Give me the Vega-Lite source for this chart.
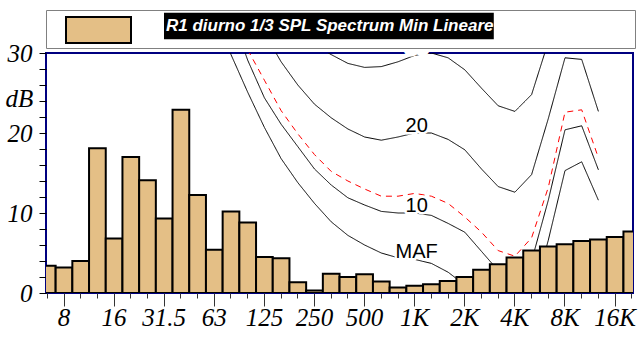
{
  "$schema": "https://vega.github.io/schema/vega-lite/v6.json",
  "width": 587,
  "height": 240,
  "autosize": {"type": "none"},
  "padding": {"left": 46, "top": 53, "right": 9, "bottom": 45},
  "background": "white",
  "config": {"view": {"stroke": "#000080", "strokeWidth": 2}},
  "datasets": {
    "bars": [
      {"f": "6.3", "db": 3.4}, {"f": "8", "db": 3.2}, {"f": "10", "db": 4.0}, {"f": "12.5", "db": 18.1},
      {"f": "16", "db": 6.8}, {"f": "20", "db": 17.0}, {"f": "25", "db": 14.1}, {"f": "31.5", "db": 9.3},
      {"f": "40", "db": 22.9}, {"f": "50", "db": 12.25}, {"f": "63", "db": 5.4}, {"f": "80", "db": 10.2},
      {"f": "100", "db": 8.8}, {"f": "125", "db": 4.5}, {"f": "160", "db": 4.35}, {"f": "200", "db": 1.35},
      {"f": "250", "db": 0.3}, {"f": "315", "db": 2.4}, {"f": "400", "db": 2.0}, {"f": "500", "db": 2.35},
      {"f": "630", "db": 1.45}, {"f": "800", "db": 0.7}, {"f": "1K", "db": 0.9}, {"f": "1.25K", "db": 1.1},
      {"f": "1.6K", "db": 1.5}, {"f": "2K", "db": 2.0}, {"f": "2.5K", "db": 2.9}, {"f": "3.15K", "db": 3.6},
      {"f": "4K", "db": 4.45}, {"f": "5K", "db": 5.3}, {"f": "6.3K", "db": 5.8}, {"f": "8K", "db": 6.1},
      {"f": "10K", "db": 6.5}, {"f": "12.5K", "db": 6.7}, {"f": "16K", "db": 7.0}, {"f": "20K", "db": 7.7}
    ],
    "curves": [
      {"curve": "MAF", "f": "63", "db": 35.5}, {"curve": "MAF", "f": "80", "db": 29.8}, {"curve": "MAF", "f": "100", "db": 25.1},
      {"curve": "MAF", "f": "125", "db": 20.7}, {"curve": "MAF", "f": "160", "db": 16.8}, {"curve": "MAF", "f": "200", "db": 13.8},
      {"curve": "MAF", "f": "250", "db": 11.2}, {"curve": "MAF", "f": "315", "db": 8.9}, {"curve": "MAF", "f": "400", "db": 7.2},
      {"curve": "MAF", "f": "500", "db": 6.0}, {"curve": "MAF", "f": "630", "db": 5.0}, {"curve": "MAF", "f": "800", "db": 4.4},
      {"curve": "MAF", "f": "1K", "db": 4.2}, {"curve": "MAF", "f": "1.25K", "db": 3.7}, {"curve": "MAF", "f": "1.6K", "db": 2.6},
      {"curve": "MAF", "f": "2K", "db": 1.0}, {"curve": "MAF", "f": "2.5K", "db": -1.2}, {"curve": "MAF", "f": "3.15K", "db": -3.6},
      {"curve": "MAF", "f": "4K", "db": -3.9}, {"curve": "MAF", "f": "5K", "db": -1.1}, {"curve": "MAF", "f": "6.3K", "db": 6.6},
      {"curve": "MAF", "f": "8K", "db": 15.3}, {"curve": "MAF", "f": "10K", "db": 16.4}, {"curve": "MAF", "f": "12.5K", "db": 11.6},

      {"curve": "10", "f": "80", "db": 35.0}, {"curve": "10", "f": "100", "db": 29.1}, {"curve": "10", "f": "125", "db": 24.4},
      {"curve": "10", "f": "160", "db": 21.1}, {"curve": "10", "f": "200", "db": 18.3}, {"curve": "10", "f": "250", "db": 15.5},
      {"curve": "10", "f": "315", "db": 13.5}, {"curve": "10", "f": "400", "db": 11.9}, {"curve": "10", "f": "500", "db": 11.0},
      {"curve": "10", "f": "630", "db": 10.2}, {"curve": "10", "f": "800", "db": 10.0}, {"curve": "10", "f": "1K", "db": 10.0},
      {"curve": "10", "f": "1.25K", "db": 9.7}, {"curve": "10", "f": "1.6K", "db": 8.7}, {"curve": "10", "f": "2K", "db": 7.6},
      {"curve": "10", "f": "2.5K", "db": 5.2}, {"curve": "10", "f": "3.15K", "db": 2.8}, {"curve": "10", "f": "4K", "db": 2.4},
      {"curve": "10", "f": "5K", "db": 4.0}, {"curve": "10", "f": "6.3K", "db": 11.6}, {"curve": "10", "f": "8K", "db": 20.4},
      {"curve": "10", "f": "10K", "db": 20.9}, {"curve": "10", "f": "12.5K", "db": 15.4},

      {"curve": "dash", "f": "80", "db": 35.5}, {"curve": "dash", "f": "100", "db": 30.4}, {"curve": "dash", "f": "125", "db": 26.6},
      {"curve": "dash", "f": "160", "db": 22.8}, {"curve": "dash", "f": "200", "db": 19.9}, {"curve": "dash", "f": "250", "db": 17.3},
      {"curve": "dash", "f": "315", "db": 15.2}, {"curve": "dash", "f": "400", "db": 14.0}, {"curve": "dash", "f": "500", "db": 13.0},
      {"curve": "dash", "f": "630", "db": 12.1}, {"curve": "dash", "f": "800", "db": 12.1}, {"curve": "dash", "f": "1K", "db": 12.45},
      {"curve": "dash", "f": "1.25K", "db": 12.1}, {"curve": "dash", "f": "1.6K", "db": 11.2}, {"curve": "dash", "f": "2K", "db": 9.5},
      {"curve": "dash", "f": "2.5K", "db": 7.6}, {"curve": "dash", "f": "3.15K", "db": 5.3}, {"curve": "dash", "f": "4K", "db": 4.6},
      {"curve": "dash", "f": "5K", "db": 6.9}, {"curve": "dash", "f": "6.3K", "db": 13.2}, {"curve": "dash", "f": "8K", "db": 22.6},
      {"curve": "dash", "f": "10K", "db": 22.9}, {"curve": "dash", "f": "12.5K", "db": 16.9},

      {"curve": "20", "f": "125", "db": 32.5}, {"curve": "20", "f": "160", "db": 28.9}, {"curve": "20", "f": "200", "db": 26.0},
      {"curve": "20", "f": "250", "db": 23.6}, {"curve": "20", "f": "315", "db": 21.9}, {"curve": "20", "f": "400", "db": 20.5},
      {"curve": "20", "f": "500", "db": 19.5}, {"curve": "20", "f": "630", "db": 19.1}, {"curve": "20", "f": "800", "db": 19.5},
      {"curve": "20", "f": "1K", "db": 20.0}, {"curve": "20", "f": "1.25K", "db": 20.0}, {"curve": "20", "f": "1.6K", "db": 19.2},
      {"curve": "20", "f": "2K", "db": 17.9}, {"curve": "20", "f": "2.5K", "db": 15.5}, {"curve": "20", "f": "3.15K", "db": 13.3},
      {"curve": "20", "f": "4K", "db": 12.6}, {"curve": "20", "f": "5K", "db": 14.8}, {"curve": "20", "f": "6.3K", "db": 21.8},
      {"curve": "20", "f": "8K", "db": 29.4}, {"curve": "20", "f": "10K", "db": 29.2}, {"curve": "20", "f": "12.5K", "db": 22.7},

      {"curve": "30", "f": "250", "db": 31.0}, {"curve": "30", "f": "315", "db": 29.8}, {"curve": "30", "f": "400", "db": 28.7},
      {"curve": "30", "f": "500", "db": 28.2}, {"curve": "30", "f": "630", "db": 28.3}, {"curve": "30", "f": "800", "db": 28.9},
      {"curve": "30", "f": "1K", "db": 29.7}, {"curve": "30", "f": "1.25K", "db": 30.0}, {"curve": "30", "f": "1.6K", "db": 29.4},
      {"curve": "30", "f": "2K", "db": 27.9}, {"curve": "30", "f": "2.5K", "db": 25.6}, {"curve": "30", "f": "3.15K", "db": 23.4},
      {"curve": "30", "f": "4K", "db": 22.7}, {"curve": "30", "f": "5K", "db": 24.8}, {"curve": "30", "f": "6.3K", "db": 31.4},
      {"curve": "30", "f": "8K", "db": 38.5}, {"curve": "30", "f": "10K", "db": 38.5}, {"curve": "30", "f": "12.5K", "db": 33.0}
    ]
  },
  "encoding": {
    "x": {"field": "f", "type": "ordinal",
          "scale": {"type": "band", "domain": ["6.3","8","10","12.5","16","20","25","31.5","40","50","63","80","100","125","160","200","250","315","400","500","630","800","1K","1.25K","1.6K","2K","2.5K","3.15K","4K","5K","6.3K","8K","10K","12.5K","16K","20K"], "range": [-7.05, 594.15], "paddingInner": 0, "paddingOuter": 0},
          "axis": {
            "title": null, "domain": false, "grid": false, "bandPosition": 0.5,
            "tickColor": "#333333", "tickWidth": 1,
            "tickSize": {"condition": {"test": "indexof(['8','16','31.5','63','125','250','500','1K','2K','4K','8K','16K'], datum.value) >= 0", "value": 13}, "value": 5},
            "labelExpr": "indexof(['8','16','31.5','63','125','250','500','1K','2K','4K','8K','16K'], datum.value) >= 0 ? datum.value : ''",
            "labelAngle": 0, "labelFont": "Liberation Serif", "labelFontStyle": "italic", "labelFontSize": 25,
            "labelColor": "#000000", "labelPadding": -1, "labelOverlap": false, "labelBound": false, "labelFlush": false
          }},
    "y": {"field": "db", "type": "quantitative",
          "scale": {"domain": [0, 30], "nice": false, "zero": false},
          "axis": {
            "values": [0, 2, 4, 6, 8, 10, 12, 14, 16, 18, 20, 22, 24, 26, 28, 30],
            "domain": false, "grid": false, "tickSize": 7, "tickColor": "#000000", "tickWidth": 1,
            "labelExpr": "datum.value % 10 == 0 ? datum.label : ''",
            "labelFont": "Liberation Serif", "labelFontStyle": "italic", "labelFontSize": 25, "labelColor": "#000000",
            "labelPadding": 7, "labelOverlap": false, "labelBound": false, "labelFlush": false,
            "title": "dB", "titleAngle": 0, "titleX": -27, "titleY": 45.5, "titleAlign": "center", "titleBaseline": "middle",
            "titleFont": "Liberation Serif", "titleFontStyle": "italic", "titleFontWeight": "normal", "titleFontSize": 25, "titleColor": "#000000"
          }}
  },
  "layer": [
    {
      "data": {"name": "curves"},
      "mark": {"type": "line", "clip": true, "strokeWidth": 1},
      "encoding": {
        "stroke": {"field": "curve", "type": "nominal", "legend": null,
                  "scale": {"domain": ["MAF", "10", "dash", "20", "30"], "range": ["#000000", "#000000", "#FF0000", "#000000", "#000000"]}},
        "strokeDash": {"field": "curve", "type": "nominal", "legend": null,
                  "scale": {"domain": ["MAF", "10", "dash", "20", "30"], "range": [[1, 0], [1, 0], [6, 5], [1, 0], [1, 0]]}},
        "order": {"value": null}
      }
    },
    {
      "data": {"name": "bars"},
      "mark": {"type": "bar", "clip": true, "stroke": "#000000", "strokeWidth": 2},
      "encoding": {
        "fill": {"datum": "R1", "type": "nominal", "scale": {"range": ["#E4BF86"]},
                 "legend": {
                   "orient": "none", "legendX": 19, "legendY": -37, "zindex": 1, "title": null, "padding": 0,
                   "symbolType": "M-1,-0.4H1V0.4H-1Z", "symbolSize": 4225, "symbolStrokeWidth": 2, "symbolStrokeColor": "#000000",
                   "clipHeight": 28, "symbolOffset": 0, "labelExpr": "''"
                 }}
      }
    },
    {
      "data": {"name": "curves"},
      "transform": [{"filter": "datum.f == '1K' && datum.curve != 'dash'"}],
      "mark": {"type": "text", "font": "Liberation Sans", "fontSize": 20, "align": "center", "baseline": "middle", "dx": 2, "dy": -7, "fill": "#FFFFFF", "stroke": "#FFFFFF", "strokeWidth": 5, "strokeJoin": "round"},
      "encoding": {
        "text": {"field": "curve", "type": "nominal"}
      }
    },
    {
      "data": {"name": "curves"},
      "transform": [{"filter": "datum.f == '1K' && datum.curve != 'dash' && datum.curve != '30'"}],
      "mark": {"type": "text", "font": "Liberation Sans", "fontSize": 20, "align": "center", "baseline": "middle", "dx": 2, "dy": -7},
      "encoding": {
        "text": {"field": "curve", "type": "nominal"},
        "color": {"datum": "R1 diurno 1/3 SPL Spectrum Min Lineare", "type": "nominal", "scale": {"range": ["#000000"]},
                 "legend": {
                   "orient": "none", "legendX": 0, "legendY": -43, "zindex": 0, "title": ".", "titleOrient": "right",
                   "titlePadding": 129, "titleFontSize": 33, "titleColor": "transparent", "titleBaseline": "top", "titleAnchor": "start",
                   "padding": 2.5, "fillColor": "#FFFFFF", "strokeColor": "#808080",
                   "symbolType": "M-1,-0.0816H1V0.0816H-1Z", "symbolSize": 109561, "symbolStrokeWidth": 0, "clipHeight": 27,
                   "symbolOffset": 115.5, "labelOffset": -329, "labelLimit": 600,
                   "labelFont": "Liberation Sans", "labelFontSize": 17, "labelFontStyle": "italic", "labelFontWeight": "bold", "labelColor": "#FFFFFF"
                 }}
      }
    }
  ]
}
